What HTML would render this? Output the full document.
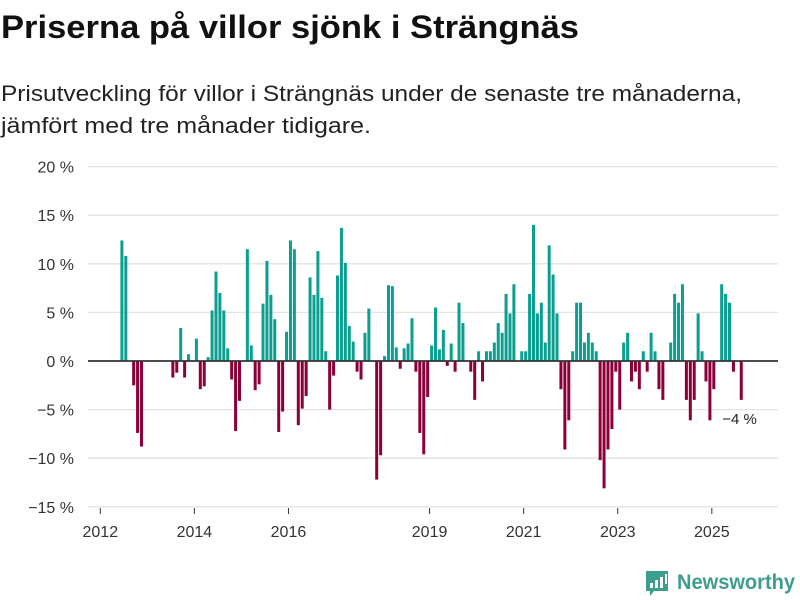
<!DOCTYPE html>
<html><head><meta charset="utf-8"><style>
body{margin:0;background:#fff;font-family:"Liberation Sans",sans-serif;}
#wrap{position:relative;width:800px;height:600px;overflow:hidden;}
svg{position:absolute;left:0;top:0;}
</style></head><body>
<div id="wrap">
<svg width="800" height="150">
<text x="1" y="38" font-size="32" font-weight="bold" fill="#111" textLength="578" lengthAdjust="spacingAndGlyphs" font-family="Liberation Sans, sans-serif">Priserna på villor sjönk i Strängnäs</text>
<text x="1" y="101" font-size="22" fill="#222" textLength="741" lengthAdjust="spacingAndGlyphs" font-family="Liberation Sans, sans-serif">Prisutveckling för villor i Strängnäs under de senaste tre månaderna,</text>
<text x="1" y="133" font-size="22" fill="#222" textLength="370" lengthAdjust="spacingAndGlyphs" font-family="Liberation Sans, sans-serif">jämfört med tre månader tidigare.</text>
</svg>
<svg id="chart" width="800" height="600"></svg>
</div>
<script>
const yTicks = [20, 15, 10, 5, 0, -5, -10, -15];
const yTickLabels = ["20 %", "15 %", "10 %", "5 %", "0 %", "−5 %", "−10 %", "−15 %"];
const xTickMonths = [0, 24, 48, 84, 108, 132, 156];
const xTickLabels = ["2012", "2014", "2016", "2019", "2021", "2023", "2025"];
const values = [null,null,null,null,null,12.4,10.8,null,-2.5,-7.4,-8.8,
null,null,null,null,null,null,null,
-1.7,-1.2,3.4,-1.7,0.7,null,2.3,-2.9,-2.6,0.4,5.2,9.2,7.0,5.2,1.3,-1.9,-7.2,-4.1,null,11.5,1.6,-3.0,-2.4,5.9,10.3,6.8,4.3,-7.3,-5.2,3.0,12.4,11.5,-6.6,-4.9,-3.6,8.6,6.8,11.3,6.5,1.0,-5.0,-1.5,8.8,13.7,10.1,3.6,2.0,-1.1,-1.9,2.9,5.4,null,-12.2,-9.7,0.5,7.8,7.7,1.4,-0.8,1.3,1.8,4.4,-1.1,-7.4,-9.6,-3.7,1.6,5.5,1.2,3.2,-0.5,1.8,-1.1,6.0,3.9,null,-1.1,-4.0,1.0,-2.1,1.0,1.0,1.9,3.9,2.9,6.9,4.9,7.9,null,1.0,1.0,6.9,14.0,4.9,6.0,1.9,11.9,8.9,4.9,-2.9,-9.1,-6.1,1.0,6.0,6.0,1.9,2.9,1.9,1.0,-10.2,-13.1,-9.1,-7.0,-1.1,-5.0,1.9,2.9,-2.1,-1.1,-2.9,1.0,-1.1,2.9,1.0,-2.9,-4.0,null,1.9,6.9,6.0,7.9,-4.0,-6.1,-4.0,4.9,1.0,-2.1,-6.1,-2.9,null,7.9,6.9,6.0,-1.1,null,-4.0];
const lastLabel = "−4 %";

const svg = document.getElementById('chart');
const NS = "http://www.w3.org/2000/svg";
function yScale(v){ return 361 - 9.72 * v; }
function xScale(m){ return 100.3 + 3.92 * m; }
function mk(tag, attrs){ const e=document.createElementNS(NS,tag); for(const k in attrs) e.setAttribute(k,attrs[k]); svg.appendChild(e); return e; }

yTicks.forEach((t,i)=>{
  const y=yScale(t);
  if(t!==0){
    const g=mk('line',{x1:88,x2:778,y1:y,y2:y,stroke:'#e3e3e3','stroke-width':1.3});
    
    
  }
  const tx=mk('text',{x:74,y:y+6,'text-anchor':'end','font-size':16,fill:'#333','font-family':'Liberation Sans, sans-serif'});
  tx.textContent=yTickLabels[i];
  
  
});

values.forEach((v,i)=>{
  if(v===null) return;
  const x=xScale(i)+0.5;
  const y0=yScale(0), y1=yScale(v);
  const r=mk('rect',{x:x,y:Math.min(y0,y1),width:3,height:Math.abs(y1-y0),fill:v>=0?'#0c9f8f':'#8c0039'});
  
  
});

const zl=mk('line',{x1:88,x2:778,y1:yScale(0),y2:yScale(0),stroke:'#333','stroke-width':1.8});



xTickMonths.forEach((m,i)=>{
  const x=xScale(m);
  const tk=mk('line',{x1:x,x2:x,y1:508,y2:514,stroke:'#333','stroke-width':1});
  
  
  const tx=mk('text',{x:x,y:537,'text-anchor':'middle','font-size':16,fill:'#333','font-family':'Liberation Sans, sans-serif'});
  tx.textContent=xTickLabels[i];
  
  
});

const li=values.length-1;
const lbl=mk('text',{x:xScale(li)-17,y:yScale(values[li])+24,'font-size':15,fill:'#222','font-family':'Liberation Sans, sans-serif'});
lbl.textContent=lastLabel;


</script>
<svg width="800" height="600" style="position:absolute;left:0;top:0;pointer-events:none">
<path d="M646 571 h22 v20 h-14 l-4 5 v-5 h-4 z" fill="#3e9e8e"/>
<rect x="650" y="583" width="3" height="5" fill="#fff"/><rect x="655" y="580" width="3" height="8" fill="#fff"/><rect x="660" y="577" width="3" height="11" fill="#fff"/><rect x="665" y="574" width="2" height="10" fill="#fff"/>
<text x="677" y="589" font-size="21" font-weight="bold" fill="#3e9e8e" textLength="118" lengthAdjust="spacingAndGlyphs" font-family="Liberation Sans, sans-serif">Newsworthy</text>
</svg>
</body></html>
